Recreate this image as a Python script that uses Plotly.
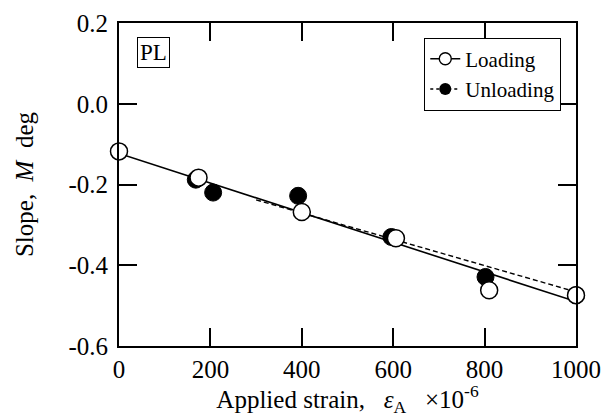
import plotly.graph_objects as go

# Slope M versus applied strain for the PL specimen
load_strain = [0, 174, 400, 606, 810, 1000]
load_slope = [-0.118, -0.183, -0.268, -0.333, -0.462, -0.474]

unload_strain = [168, 206, 392, 596, 802, 1000]
unload_slope = [-0.188, -0.220, -0.228, -0.330, -0.429, -0.474]

# straight-line fits (end points)
load_fit_x = [0, 1000]
load_fit_y = [-0.123, -0.490]
unload_fit_x = [300, 1000]
unload_fit_y = [-0.238, -0.466]

y_ticks = [0.2, 0.0, -0.2, -0.4, -0.6]
y_tick_text = ["0.2", "0.0", "-0.2", "-0.4", "-0.6"]
x_ticks = [0, 200, 400, 600, 800, 1000]

FONT = "Liberation Serif"
BLACK = "black"
MSIZE = 17

fig = go.Figure()

# fitted lines
fig.add_trace(go.Scatter(x=load_fit_x, y=load_fit_y, mode="lines",
                         line=dict(color=BLACK, width=1.6), showlegend=False,
                         hoverinfo="skip"))
fig.add_trace(go.Scatter(x=unload_fit_x, y=unload_fit_y, mode="lines",
                         line=dict(color=BLACK, width=1.4, dash="5px,3px"),
                         showlegend=False, hoverinfo="skip"))

# data points: filled (unloading) below, open (loading) on top
fig.add_trace(go.Scatter(x=unload_strain, y=unload_slope, mode="markers",
                         marker=dict(symbol="circle", size=MSIZE, color=BLACK,
                                     line=dict(color=BLACK, width=1)),
                         showlegend=False, cliponaxis=False))
fig.add_trace(go.Scatter(x=load_strain, y=load_slope, mode="markers",
                         marker=dict(symbol="circle", size=MSIZE, color="white",
                                     line=dict(color=BLACK, width=1.5)),
                         showlegend=False, cliponaxis=False))

# legend entries
fig.add_trace(go.Scatter(x=[None], y=[None], mode="lines+markers", name="Loading",
                         line=dict(color=BLACK, width=1.4),
                         marker=dict(symbol="circle", size=12, color="white",
                                     line=dict(color=BLACK, width=1.4))))
fig.add_trace(go.Scatter(x=[None], y=[None], mode="lines+markers", name="Unloading",
                         line=dict(color=BLACK, width=1.4, dash="3px,3px"),
                         marker=dict(symbol="circle", size=12, color=BLACK)))

axis_common = dict(
    showline=True, linecolor=BLACK, linewidth=1.8, mirror="ticks",
    ticks="inside", ticklen=18, tickwidth=1.6, tickcolor=BLACK,
    showgrid=False, zeroline=False, automargin=False,
    tickfont=dict(family=FONT, size=25, color=BLACK),
)

fig.update_xaxes(range=[0, 1000], tickvals=x_ticks, ticklabelstandoff=0,
                 title=dict(text="Applied strain,   <i>ε</i><sub>A</sub>   ×10<sup>-6</sup>",
                            font=dict(family=FONT, size=25, color=BLACK), standoff=2),
                 **axis_common)
fig.update_yaxes(range=[-0.6, 0.2], tickvals=y_ticks, ticktext=y_tick_text,
                 ticklabelstandoff=4,
                 title=dict(text="Slope,  <i>M</i>  deg",
                            font=dict(family=FONT, size=25, color=BLACK), standoff=28),
                 **axis_common)

fig.add_annotation(xref="paper", yref="paper", x=0.075, y=0.908,
                   xanchor="center", yanchor="middle", text="PL",
                   showarrow=False, font=dict(family=FONT, size=23, color=BLACK),
                   bordercolor=BLACK, borderwidth=1, borderpad=2, bgcolor="white")

fig.update_layout(
    width=602, height=417,
    margin=dict(l=119, r=26, t=23, b=71),
    paper_bgcolor="white", plot_bgcolor="white",
    font=dict(family=FONT, color=BLACK),
    legend=dict(x=0.668, y=0.955, xanchor="left", yanchor="top",
                bgcolor="white", bordercolor=BLACK, borderwidth=1,
                font=dict(family=FONT, size=21, color=BLACK),
                itemwidth=30, tracegroupgap=0),
)

fig.write_html("out.html")
